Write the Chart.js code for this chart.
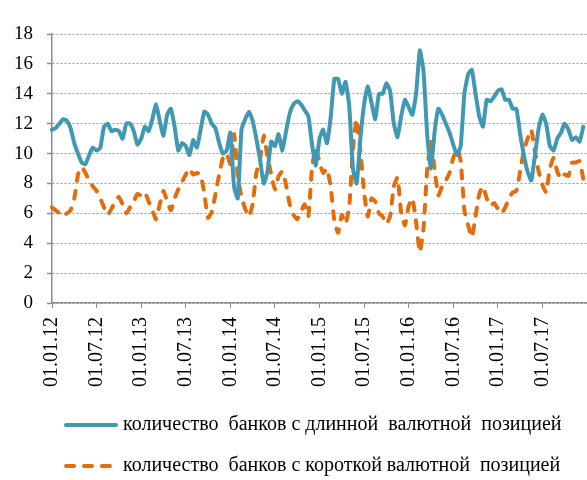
<!DOCTYPE html>
<html>
<head>
<meta charset="utf-8">
<script src="https://cdn.jsdelivr.net/npm/chart.js@4/dist/chart.umd.min.js"></script>
<style>
  html, body { margin: 0; padding: 0; background: #fff; }
  #wrap { width: 587px; height: 480px; }
</style>
</head>
<body>
<div id="wrap"><canvas id="posChart" width="587" height="480"></canvas></div>
<script>
// подписи оси X (каждые полгода)
const tickLabels = ['01.01.12', '01.07.12', '01.01.13', '01.07.13', '01.01.14', '01.07.14',
    '01.01.15', '01.07.15', '01.01.16', '01.07.16', '01.01.17', '01.07.17', '01.01.18'];

// точки по полумесяцам: 01 и 15 число каждого месяца
const categories = [];
for (let m = 0; m < 72; m++) {
    const y = 12 + Math.floor(m / 12);
    const mm = String(m % 12 + 1).padStart(2, '0');
    categories.push('01.' + mm + '.' + y, '15.' + mm + '.' + y);
}
categories.push('01.01.18');

const seriesLabels = ['количество  банков с длинной  валютной  позицией',
    'количество  банков с короткой валютной  позицией'];

const longPos = [
    11.6, 11.7, 12.0, 12.3, 12.2, 11.7, 10.7, 10.0, 9.4, 9.3, 9.9, 10.4,
    10.2, 10.4, 11.8, 12.0, 11.5, 11.6, 11.5, 11.0, 12.0, 12.0, 11.5, 10.6,
    11.0, 11.8, 11.5, 12.3, 13.3, 12.2, 11.2, 12.6, 13.0, 11.8, 10.2, 10.7,
    10.5, 9.9, 10.9, 10.4, 11.6, 12.8, 12.6, 12.0, 11.7, 10.7, 10.0, 10.2,
    11.4, 7.8, 7.0, 11.6, 12.3, 12.8, 12.2, 11.0, 9.6, 8.0, 8.8, 10.8,
    10.5, 11.3, 10.2, 11.5, 12.7, 13.3, 13.5, 13.3, 12.9, 12.5, 10.6, 9.2,
    11.0, 11.6, 10.7, 12.4, 15.0, 15.0, 14.0, 14.8, 13.2, 9.0, 8.0, 11.0,
    13.3, 14.5, 13.4, 12.3, 14.0, 14.0, 14.7, 14.2, 12.0, 11.1, 12.5, 13.6,
    13.1, 12.6, 14.0, 16.9, 15.5, 11.2, 9.0, 11.5, 13.0, 12.6, 12.0, 11.4,
    10.6, 9.9, 10.5, 14.0, 15.3, 15.6, 14.0, 12.5, 11.8, 13.6, 13.5, 13.8,
    14.2, 14.3, 13.6, 13.6, 13.0, 13.0, 11.3, 9.9, 8.8, 8.2, 9.9, 11.7,
    12.6, 12.0, 10.5, 10.2, 11.0, 11.4, 12.0, 11.6, 10.9, 11.1, 10.8, 11.8,
    null
];

const shortPos = [
    6.4, 6.2, 6.0, 5.8, 6.0, 6.2, 7.0, 8.6, 9.1, 8.7, 8.2, 7.8,
    7.5, 7.0, 6.4, 5.9, 6.3, 6.8, 7.1, 6.6, 6.0, 6.4, 6.8, 7.3,
    7.2, 7.4, 6.8, 6.2, 5.6, 6.6, 7.5, 6.8, 6.2, 7.0, 7.6, 8.1,
    8.6, 9.0, 8.6, 8.7, 8.6, 7.3, 5.7, 6.1, 7.3, 8.6, 9.7, 10.0,
    9.3, 11.3, 8.5, 7.1, 6.3, 5.8, 6.6, 8.7, 9.6, 11.2, 9.8, 8.6,
    7.6, 8.5, 8.8, 7.9, 6.6, 5.9, 5.6, 6.1, 6.6, 5.8, 9.1, 10.4,
    9.4, 8.7, 9.0, 7.8, 5.5, 4.7, 5.9, 5.3, 6.4, 10.3, 12.3, 10.2,
    7.4, 5.8, 7.0, 6.8, 6.0, 5.8, 5.3, 5.8, 7.8, 8.4, 6.0, 5.2,
    6.5, 7.0, 5.4, 3.4, 5.0, 9.0, 10.8, 8.9, 7.2, 7.8, 8.2, 8.7,
    9.7, 10.3, 9.5, 6.2, 5.2, 4.4, 5.8, 7.3, 7.8, 7.0, 6.5, 6.7,
    6.3, 6.0, 6.4, 7.0, 7.4, 7.5, 8.8, 10.2, 11.0, 11.6, 10.1, 8.8,
    7.9, 7.4, 9.0, 9.7, 8.8, 8.3, 8.6, 8.5, 9.4, 9.4, 9.5, 8.3,
    null
];

const serif = 'Liberation Serif';

// легенда в два ряда, как в исходнике
const legendPlugin = {
    id: 'twoRowLegend',
    afterDraw(chart) {
        const ctx = chart.ctx;
        const rows = [425, 466];
        ctx.save();
        ctx.font = '20px "' + serif + '"';
        ctx.textBaseline = 'middle';
        ctx.fillStyle = '#000';
        chart.data.datasets.forEach(function(ds, i) {
            const y = rows[i];
            ctx.beginPath();
            ctx.lineWidth = ds.borderWidth;
            ctx.strokeStyle = ds.borderColor;
            ctx.setLineDash(ds.borderDash || []);
            ctx.lineCap = ds.borderCapStyle || 'butt';
            ctx.moveTo(66, y);
            ctx.lineTo(116, y);
            ctx.stroke();
            ctx.setLineDash([]);
            ctx.fillText(ds.label, 123, y);
        });
        ctx.restore();
    }
};

new Chart(document.getElementById('posChart').getContext('2d'), {
    type: 'line',
    data: {
        labels: categories,
        datasets: [{
            label: seriesLabels[0],
            data: longPos,
            borderColor: '#4098b2',
            borderWidth: 4,
            borderCapStyle: 'round',
            tension: 0.15,
            pointRadius: 0,
            fill: false
        }, {
            label: seriesLabels[1],
            data: shortPos,
            borderColor: '#e46c0a',
            borderWidth: 4,
            borderDash: [8, 10],
            borderCapStyle: 'round',
            tension: 0.15,
            pointRadius: 0,
            fill: false
        }]
    },
    options: {
        responsive: false,
        animation: false,
        layout: { padding: { top: 34, right: 0, bottom: 82, left: 0 } },
        plugins: {
            legend: { display: false },
            tooltip: { enabled: false }
        },
        scales: {
            x: {
                offset: false,
                afterFit: function(scale) {
                    scale.height = 95;
                    scale.paddingLeft = 0;
                    scale.paddingRight = 0;
                },
                grid: {
                    drawOnChartArea: false,
                    tickLength: 5,
                    color: function(c) { return c.index % 12 === 0 ? '#8c8c8c' : 'rgba(0,0,0,0)'; }
                },
                border: { color: '#8c8c8c', width: 1.5 },
                ticks: {
                    autoSkip: false,
                    maxRotation: 90,
                    minRotation: 90,
                    padding: 9,
                    color: '#000',
                    font: { family: serif, size: 20 },
                    callback: function(v, idx) {
                        return (idx % 12 === 0 && idx < 144) ? tickLabels[idx / 12] : '';
                    }
                }
            },
            y: {
                min: 0,
                max: 18,
                afterFit: function(scale) { scale.width = 52; },
                grid: {
                    color: '#9a9a9a',
                    lineWidth: 1,
                    tickLength: 5,
                    tickColor: '#8c8c8c',
                    tickBorderDash: [],
                    tickWidth: 1.5
                },
                border: { color: '#8c8c8c', width: 1.5, dash: [2, 2] },
                ticks: {
                    stepSize: 2,
                    padding: 14,
                    color: '#000',
                    font: { family: serif, size: 19 }
                }
            }
        }
    },
    plugins: [legendPlugin]
});
</script>
</body>
</html>
